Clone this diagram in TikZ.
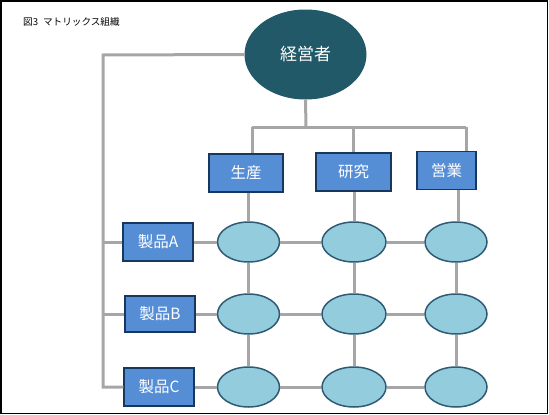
\documentclass[tikz,border=0pt]{standalone}
\usepackage{fontspec}
\setmainfont{Noto Sans CJK JP}
\usetikzlibrary{shapes.geometric}
\definecolor{bossfill}{HTML}{215968}
\definecolor{boxfill}{HTML}{558ED5}
\definecolor{boxline}{HTML}{17375E}
\definecolor{cellfill}{HTML}{93CDDD}
\definecolor{cellline}{HTML}{2E5A73}
\definecolor{connc}{HTML}{A6A6A6}
\tikzset{
  boss/.style={ellipse, fill=bossfill, draw=bossfill, line width=1pt, minimum width=121pt, minimum height=89pt, inner sep=0pt, text=white, font=\fontsize{17}{17}\selectfont},
  unitbox/.style={rectangle, fill=boxfill, draw=boxline, line width=1.5pt, minimum height=38pt, inner sep=0pt, text=white, font=\fontsize{15.5}{15.5}\selectfont},
  cell/.style={ellipse, fill=cellfill, draw=cellline, line width=1.5pt, minimum width=62pt, minimum height=40pt, inner sep=0pt},
  conn/.style={draw=connc, line width=3pt},
}
\begin{document}
\begin{tikzpicture}[x=1pt,y=-1pt]
\useasboundingbox (0,0) rectangle (549,415);
\draw[black, line width=1.5pt] (0.75,0.75) rectangle (547.5,413.5);
\node[anchor=west, font=\fontsize{9.6}{9.6}\selectfont, inner sep=0pt] (title) at (23,22) {図3\hspace{5pt}マトリックス組織};
% coordinates of connector corners
\coordinate (tl) at (103,55);
\coordinate (bus) at (306,127);
\coordinate (busL) at (252,127);
\coordinate (busR) at (466,127);
\node[boss] (ceo) at (305.5,54.5) {経営者};
\node[unitbox, minimum width=74pt] (f1) at (246,173) {生産};
\node[unitbox, minimum width=75pt] (f2) at (353.5,172) {研究};
\node[unitbox, minimum width=59pt] (f3) at (446.5,170.5) {営業};
\node[unitbox, minimum width=70pt] (pA) at (158,242) {製品A\hspace{8pt}};
\node[unitbox, minimum width=70pt, minimum height=36pt] (pB) at (160,314) {製品B\hspace{8pt}};
\node[unitbox, minimum width=70pt] (pC) at (159,387) {製品C\hspace{8pt}};
\foreach \r/\y in {A/242,B/314,C/387}{
  \node[cell] (e\r1) at (248.5,\y) {};
  \node[cell, minimum width=64pt] (e\r2) at (354,\y) {};
  \node[cell] (e\r3) at (456,\y) {};
}
% tree connectors
\draw[conn] (ceo.west) -- (tl) |- (pC.west);
\draw[conn] (pA.west) -- (pA.west -| tl);
\draw[conn] (pB.west) -- (pB.west -| tl);
\draw[conn] (ceo.south) -- (bus);
\draw[conn] (busL) -- (busR);
\draw[conn] (busL) -- (busL |- f1.north);
\draw[conn] (bus -| f2.north) -- (f2.north);
\draw[conn] (busR) -- (busR |- f3.north);
% function to first row
\draw[conn] (f1.south -| eA1.north) -- (eA1.north);
\draw[conn] (f2.south -| eA2.north) -- (eA2.north);
\draw[conn] (f3.south -| 458,0) -- (eA3.north -| 458,0);
% grid
\foreach \r in {A,B,C}{
  \draw[conn] (p\r) -- (e\r1);
  \draw[conn] (e\r1) -- (e\r2);
  \draw[conn] (e\r2) -- (e\r3);
}
\foreach \c in {1,2,3}{
  \draw[conn] (eA\c) -- (eB\c);
  \draw[conn] (eB\c) -- (eC\c);
}
\end{tikzpicture}
\end{document}
